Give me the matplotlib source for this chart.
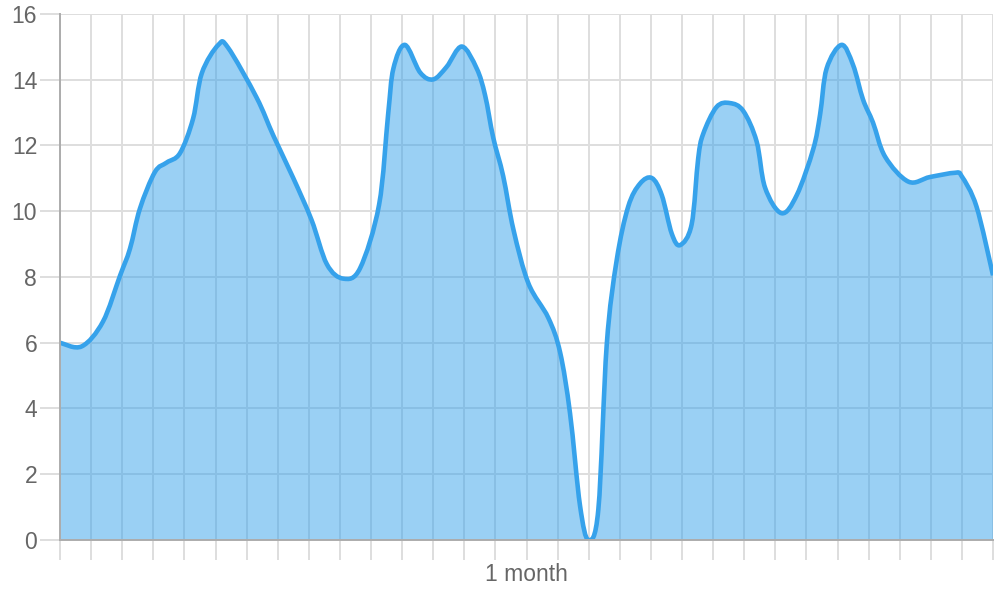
import numpy as np
import matplotlib
matplotlib.use('Agg')
import matplotlib.pyplot as plt
from matplotlib.path import Path
from matplotlib.patches import PathPatch

# values: day position (0..30) and value
days = [0.00, 0.70, 1.38, 1.93, 2.25, 2.57, 3.05, 3.43, 3.86, 4.28, 4.56, 5.09, 5.40,
        6.32, 6.86, 7.50, 8.09, 8.58, 9.11, 9.65, 10.26, 10.55, 10.72, 11.09, 11.58,
        12.00, 12.43, 12.92, 13.40, 13.67, 13.93, 14.25, 14.58, 15.06, 15.70, 16.08,
        16.40, 16.72, 16.99, 17.31, 17.58, 17.90, 18.27, 18.65, 19.03, 19.35, 19.67,
        19.94, 20.31, 20.52, 20.68, 21.11, 21.54, 21.97, 22.40, 22.67, 23.20, 23.69,
        24.22, 24.44, 24.65, 25.13, 25.50, 25.82, 26.14, 26.53, 27.28, 27.97, 28.78,
        28.99, 29.47, 30.00]
values = [6.0, 5.89, 6.64, 8.04, 8.86, 10.08, 11.19, 11.48, 11.77, 12.82, 14.2, 15.06, 14.98,
          13.46, 12.3, 11.01, 9.73, 8.39, 7.95, 8.27, 10.2, 12.94, 14.34, 15.06, 14.22,
          14.01, 14.39, 15.01, 14.34, 13.52, 12.24, 11.07, 9.44, 7.81, 6.76, 5.71,
          3.85, 1.05, 0.0, 0.93, 5.94, 8.51, 10.14, 10.84, 11.01, 10.49, 9.32,
          8.97, 9.6, 11.6, 12.35, 13.17, 13.29, 13.05, 12.12, 10.72, 9.94, 10.49,
          11.89, 12.94, 14.34, 15.06, 14.45, 13.4, 12.7, 11.66, 10.9, 11.04, 11.17,
          11.07, 10.14, 8.05]
yticks = [0, 2, 4, 6, 8, 10, 12, 14, 16]
xlabel_text = '1 month'

line_color = '#36a2eb'
grid_color = '#dedede'
axis_color = '#acacac'
text_color = '#666666'

plt.rcParams['font.family'] = ['Liberation Sans', 'DejaVu Sans']

fig = plt.figure(figsize=(10, 6), dpi=100)
ax = fig.add_axes([0.06, 0.1, 0.933, 0.8767])

# smooth curve: catmull-rom segments as bezier path
pts = np.column_stack([days, values])
verts = [tuple(pts[0])]
codes = [Path.MOVETO]
n = len(pts)
for i in range(n - 1):
    p0 = pts[max(i - 1, 0)]
    p1 = pts[i]
    p2 = pts[i + 1]
    p3 = pts[min(i + 2, n - 1)]
    c1 = p1 + (p2 - p0) / 6
    c2 = p2 - (p3 - p1) / 6
    verts += [tuple(c1), tuple(c2), tuple(p2)]
    codes += [Path.CURVE4] * 3
line_path = Path(verts, codes)
fill_path = Path(verts + [(days[-1], 0), (days[0], 0), verts[0]],
                 codes + [Path.LINETO, Path.LINETO, Path.CLOSEPOLY])

ax.add_patch(PathPatch(fill_path, facecolor=line_color, alpha=0.5, edgecolor='none', zorder=2))
ax.add_patch(PathPatch(line_path, facecolor='none', edgecolor=line_color, lw=3.3,
                       capstyle='butt', joinstyle='round', zorder=3))

ax.set_xlim(0, 30)
ax.set_ylim(0, 16)
ax.set_axisbelow(True)

ax.set_yticks(yticks)
ax.set_yticklabels([str(t) for t in yticks])
ax.set_xticks(range(31))
xl = [''] * 31
xl[15] = xlabel_text
ax.set_xticklabels(xl)

ax.grid(True, color=grid_color, lw=1.4)
ax.tick_params(axis='both', length=14.4, width=1.4, color=grid_color,
               labelcolor=text_color, labelsize=16.5)
ax.tick_params(axis='y', pad=2)
ax.tick_params(axis='x', pad=2)
ax.xaxis.get_major_ticks()[0].tick1line.set_color(axis_color)
ax.yaxis.get_major_ticks()[0].tick1line.set_color(axis_color)

for s in ['top', 'right']:
    ax.spines[s].set_visible(False)
for s in ['left', 'bottom']:
    ax.spines[s].set_color(axis_color)
    ax.spines[s].set_linewidth(1.4)
    ax.spines[s].set_zorder(4)

fig.savefig('out.png', dpi=100)
